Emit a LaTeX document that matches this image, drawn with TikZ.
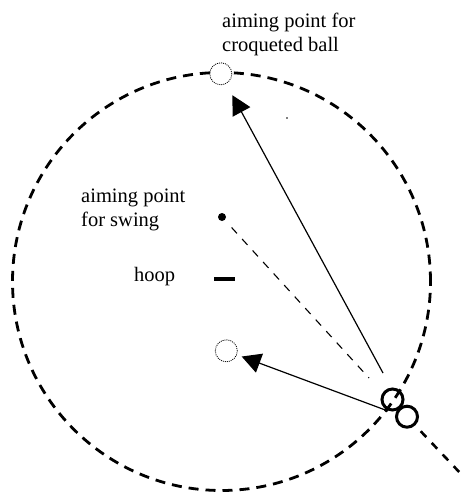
\documentclass[tikz,border=0pt]{standalone}
\usepackage{fontspec}
\setmainfont{Liberation Serif}
\usetikzlibrary{arrows.meta}

\begin{document}
\begin{tikzpicture}[x=1pt, y=-1pt, >={Triangle[length=19pt,width=20pt]},
    ball/.style={circle, draw, line width=3pt, minimum size=21pt, inner sep=0pt},
    ghost/.style={circle, draw, fill=white, line width=0.8pt, dash pattern=on 1pt off 1pt, minimum size=22pt, inner sep=0pt},
    txt/.style={align=left, font=\fontsize{20.5}{24}\selectfont, inner sep=0pt}]
    \useasboundingbox (0,0) rectangle (463,492);
    \draw[line width=2.8pt, dash pattern=on 10pt off 7pt] (221.5,281.5) circle (209pt);
    \node[ball] (croq) at (392.5,399.5) {};
    \node[ball] (striker) at (407,416.7) {};
    \node[ghost] (croqaim) at (220.8,73.8) {};
    \node[ghost] (strikeraim) at (226.3,350.8) {};
    \node[circle, fill, inner sep=0pt, minimum size=8pt] (aim) at (222,217) {};
    \node[fill, inner sep=0pt, minimum width=21pt, minimum height=3.5pt] (hoop) at (224.5,279) {};
    \node[txt, anchor=base west] (croqlabel) at (222,52) {aiming point for\\croqueted ball};
    \node[txt, anchor=base west] (aimlabel) at (81,226) {aiming point\\for swing};
    \node[txt, anchor=base west] (hooplabel) at (134,281) {hoop};
    \coordinate (croqfrom) at (383,373);
    \coordinate (strikerfrom) at (388,411);
    \coordinate (swingend) at (369,378);
    \coordinate (tail) at (462,475);
    \draw[->, line width=1.2pt, shorten >=13pt] (croqfrom) -- (croqaim);
    \draw[->, line width=1.2pt, shorten >=5pt] (strikerfrom) -- (strikeraim);
    \draw[line width=1.1pt, dash pattern=on 8pt off 7.6pt, shorten <=10pt] (aim) -- (swingend);
    \draw[line width=2.6pt, dash pattern=on 8pt off 8pt, shorten <=8pt] (striker) -- (tail);
    \fill[gray] (285.5,117.5) rectangle +(2,1.5);
\end{tikzpicture}
\end{document}
